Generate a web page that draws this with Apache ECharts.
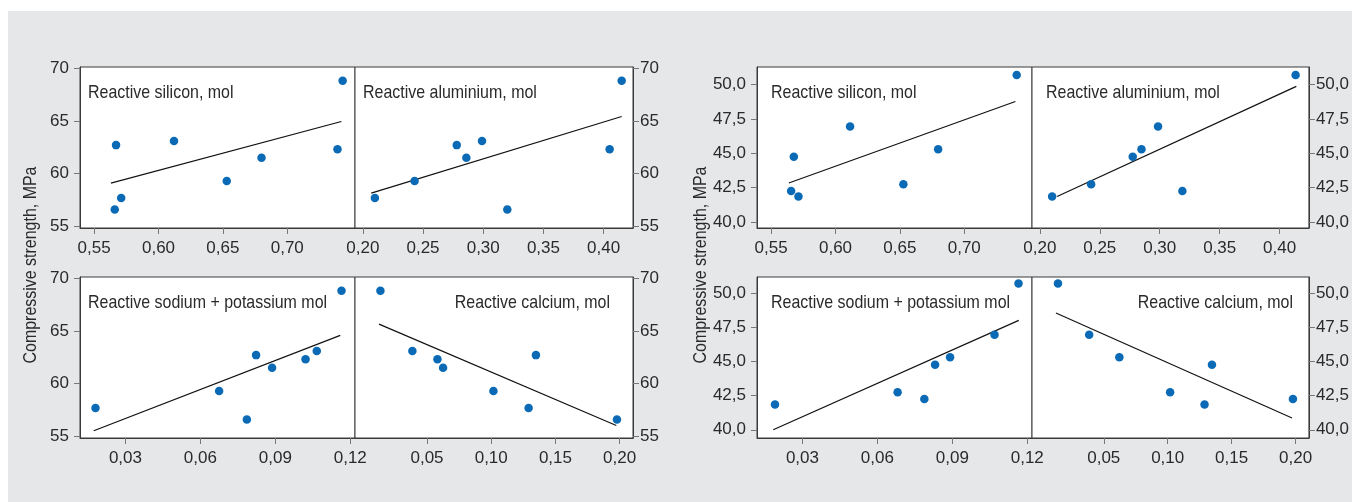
<!DOCTYPE html>
<html>
<head>
<meta charset="utf-8">
<script src="https://cdn.jsdelivr.net/npm/echarts@6/dist/echarts.min.js"></script>
<style>
html,body{margin:0;padding:0;background:#fff;}
#main{width:1352px;height:502px;}
</style>
</head>
<body>
<div id="main"></div>
<script>
// ---------- DATA ----------
// Left group (8 samples)
const leftStrength  = [68.8, 62.7, 63.1, 61.5, 62.3, 59.3, 57.7, 56.6];
const leftSilicon   = [0.743, 0.567, 0.612, 0.680, 0.739, 0.653, 0.571, 0.566];
const leftAluminium = [0.415, 0.278, 0.299, 0.286, 0.405, 0.243, 0.210, 0.320];
const leftSodiumK   = [0.1165, 0.0823, 0.1066, 0.0887, 0.1021, 0.0675, 0.018, 0.0786];
const leftCalcium   = [0.0137, 0.1348, 0.0386, 0.0625, 0.0581, 0.1017, 0.1291, 0.1979];
// Right group (7 samples)
const rightStrength  = [50.7, 44.75, 46.95, 45.3, 42.75, 41.85, 42.25];
const rightSilicon   = [0.7407, 0.5676, 0.6113, 0.6797, 0.6527, 0.5712, 0.5655];
const rightAluminium = [0.4133, 0.2775, 0.2986, 0.2848, 0.2428, 0.2103, 0.3189];
const rightSodiumK   = [0.1165, 0.0831, 0.1069, 0.0891, 0.0681, 0.019, 0.0788];
const rightCalcium   = [0.0142, 0.1346, 0.0386, 0.0622, 0.1019, 0.1288, 0.1979];
// Fitted lines (end points)
const leftFitSi  = [[0.563, 59.1], [0.742, 64.94]];
const leftFitAl  = [[0.207, 58.15], [0.415, 65.41]];
const leftFitNaK = [[0.0173, 55.54], [0.116, 64.57]];
const leftFitCa  = [[0.0126, 65.64], [0.1974, 56.04]];
const rightFitSi  = [[0.5637, 42.84], [0.7397, 48.78]];
const rightFitAl  = [[0.2144, 41.86], [0.4139, 49.88]];
const rightFitNaK = [[0.0183, 40.0], [0.1166, 48.0]];
const rightFitCa  = [[0.0126, 48.54], [0.1972, 40.86]];
// Tick labels
const ticksSi  = [0.55, 0.60, 0.65, 0.70];
const ticksAl  = [0.20, 0.25, 0.30, 0.35, 0.40];
const ticksNaK = [0.03, 0.06, 0.09, 0.12];
const ticksCa  = [0.05, 0.10, 0.15, 0.20];
const ticksLeftY  = [55, 60, 65, 70];
const ticksRightY = [40, 42.5, 45, 47.5, 50];
const panelTitles = ['Reactive silicon, mol', 'Reactive aluminium, mol',
                     'Reactive sodium + potassium mol', 'Reactive calcium, mol'];
const yTitle = 'Compressive strength, MPa';

// ---------- CHART ----------
const FONT = "'Liberation Sans', Arial, sans-serif";
const TXT = '#2a2a2a';
const DOT = '#0a6ab6';
const zip = (xs, ys) => xs.map((x, i) => [x, ys[i]]);
const comma = (v, d) => v.toFixed(d).replace('.', ',');

const panels = [
  // left group
  {grid:{left:80, top:67, width:275, height:161}, x:[0.539,0.7526], xt:ticksSi, y:[54.85,70.1], yt:ticksLeftY, yd:0, ypos:'left', data:zip(leftSilicon,leftStrength), fit:leftFitSi},
  {grid:{left:355, top:67, width:278, height:161}, x:[0.1935,0.4244], xt:ticksAl, y:[54.85,70.1], yt:ticksLeftY, yd:0, ypos:'right', data:zip(leftAluminium,leftStrength), fit:leftFitAl},
  {grid:{left:80, top:277, width:275, height:161}, x:[0.0118,0.1219], xt:ticksNaK, y:[54.85,70.1], yt:ticksLeftY, yd:0, ypos:'left', data:zip(leftSodiumK,leftStrength), fit:leftFitNaK},
  {grid:{left:355, top:277, width:278, height:161}, x:[-0.0061,0.2104], xt:ticksCa, y:[54.85,70.1], yt:ticksLeftY, yd:0, ypos:'right', data:zip(leftCalcium,leftStrength), fit:leftFitCa},
  // right group
  {grid:{left:757, top:67, width:275, height:161}, x:[0.539,0.7526], xt:ticksSi, y:[39.56,51.29], yt:ticksRightY, yd:1, ypos:'left', data:zip(rightSilicon,rightStrength), fit:rightFitSi},
  {grid:{left:1032, top:67, width:278, height:161}, x:[0.1935,0.4244], xt:ticksAl, y:[39.56,51.29], yt:ticksRightY, yd:1, ypos:'right', data:zip(rightAluminium,rightStrength), fit:rightFitAl},
  {grid:{left:757, top:277, width:275, height:161}, x:[0.0118,0.1219], xt:ticksNaK, y:[39.4,51.17], yt:ticksRightY, yd:1, ypos:'left', data:zip(rightSodiumK,rightStrength), fit:rightFitNaK},
  {grid:{left:1032, top:277, width:278, height:161}, x:[-0.0061,0.2104], xt:ticksCa, y:[39.4,51.17], yt:ticksRightY, yd:1, ypos:'right', data:zip(rightCalcium,rightStrength), fit:rightFitCa}
];

const grids = [], xAxes = [], yAxes = [], series = [];
panels.forEach((p, i) => {
  grids.push(Object.assign({show:true, backgroundColor:'#ffffff', borderColor:'#3a3a3a', borderWidth:1}, p.grid));
  xAxes.push({
    type:'value', gridIndex:i, min:p.x[0], max:p.x[1], position:'bottom',
    axisLine:{show:true, onZero:false, lineStyle:{color:'#3a3a3a', width:1}},
    axisTick:{show:true, length:6, customValues:p.xt, lineStyle:{color:'#777'}},
    axisLabel:{customValues:p.xt, margin:12, color:TXT, fontFamily:FONT, fontSize:17,
               formatter:v => comma(v, 2)},
    splitLine:{show:false}
  });
  yAxes.push({
    type:'value', gridIndex:i, min:p.y[0], max:p.y[1], position:p.ypos,
    axisLine:{show:true, onZero:false, lineStyle:{color:'#3a3a3a', width:1}},
    axisTick:{show:true, length:6, customValues:p.yt, lineStyle:{color:'#777'}},
    axisLabel:{customValues:p.yt, margin:p.ypos === 'left' ? 11 : 7, color:TXT, fontFamily:FONT, fontSize:17,
               formatter:v => comma(v, p.yd)},
    splitLine:{show:false}
  });
  series.push({
    type:'line', xAxisIndex:i, yAxisIndex:i, data:p.fit, symbol:'none', silent:true,
    lineStyle:{color:'#111', width:1.2}, z:2, animation:false
  });
  series.push({
    type:'scatter', xAxisIndex:i, yAxisIndex:i, data:p.data, symbolSize:8.5,
    itemStyle:{color:DOT, opacity:1}, z:3, animation:false
  });
});

const SX = 0.84;
const titleText = (text, x, y, align) => ({
  type:'text', x:x, y:y, scaleX:SX, silent:true,
  style:{text:text, fill:TXT, font:'19px ' + FONT, align:align, verticalAlign:'middle'}
});
const axisTitle = (x, y) => ({
  type:'text', x:x, y:y, rotation:Math.PI/2, scaleX:SX, silent:true,
  style:{text:yTitle, fill:TXT, font:'19px ' + FONT, align:'center', verticalAlign:'middle'}
});

const graphics = [
  {type:'rect', shape:{x:8, y:11, width:1344, height:491}, style:{fill:'#e6e7e9'}, z:-10, silent:true},
  titleText(panelTitles[0], 88, 93, 'left'),
  titleText(panelTitles[1], 363, 93, 'left'),
  titleText(panelTitles[2], 88, 303, 'left'),
  titleText(panelTitles[3], 610, 303, 'right'),
  titleText(panelTitles[0], 771, 93, 'left'),
  titleText(panelTitles[1], 1046, 93, 'left'),
  titleText(panelTitles[2], 771, 303, 'left'),
  titleText(panelTitles[3], 1293, 303, 'right'),
  axisTitle(31, 265),
  axisTitle(701, 265)
];

const chart = echarts.init(document.getElementById('main'), null, {renderer:'canvas'});
chart.setOption({
  backgroundColor:'#ffffff',
  animation:false,
  grid:grids, xAxis:xAxes, yAxis:yAxes, series:series,
  graphic:{elements:graphics}
});
</script>
</body>
</html>
